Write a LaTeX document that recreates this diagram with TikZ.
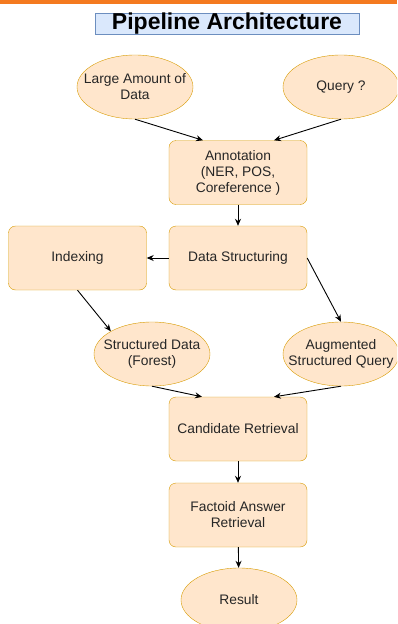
\documentclass[tikz,border=0pt]{standalone}
\usepackage{fontspec}
\setmainfont{Liberation Sans}
\usetikzlibrary{shapes.geometric,arrows.meta}
\definecolor{boxfill}{HTML}{FFE6CC}
\definecolor{boxline}{HTML}{D79B00}
\definecolor{titlefill}{HTML}{DAE8FC}
\definecolor{titleline}{HTML}{6C8EBF}
\definecolor{topbar}{HTML}{F47A20}

\begin{document}
\begin{tikzpicture} [x=1pt,y=-1pt,
    txt/.style={font=\fontsize{13.8}{16}\selectfont,text=black!85,align=center},
    stage/.style={rectangle,rounded corners=7pt,draw=boxline,fill=boxfill,minimum width=138pt,minimum height=64pt,inner sep=1pt,txt},
    blob/.style={ellipse,draw=boxline,fill=boxfill,minimum width=116pt,minimum height=64pt,inner sep=0pt,label={[txt]center:#1}},
    flow/.style={-{Stealth[length=7pt,width=6pt]},line width=0.9pt}]
       \useasboundingbox (0,0) rectangle (397,624);
       \clip (0,0) rectangle (397,624);
       \fill[topbar] (0,0) rectangle (397,4);
       \node [draw=titleline,fill=titlefill,minimum width=264pt,minimum height=21pt,inner sep=0pt,font=\fontsize{23}{23}\selectfont\bfseries] (title) at (227,23.5) {Pipeline Architecture};

       \node [blob={Large Amount of\\Data}] (data) at (135,87) {};
       \node [blob={Query ?}] (query) at (341,87) {};
       \node [stage] (anno) at (238,172.5) {Annotation\\(NER, POS,\\Coreference )};
       \node [stage] (struct) at (238,258) {Data Structuring};
       \node [stage] (index) at (77.5,258) {Indexing};
       \node [blob={Structured Data\\(Forest)}] (forest) at (152,354) {};
       \node [blob={Augmented\\Structured Query}] (augq) at (341,354) {};
       \node [stage] (cand) at (238,429) {Candidate Retrieval};
       \node [stage] (factoid) at (238,515) {Factoid Answer\\Retrieval};
       \node [blob={Result}] (result) at (239,600) {};

       \draw [flow] (data.south) -- ([xshift=-35pt]anno.north);
       \draw [flow] (query.south) -- ([xshift=36pt]anno.north);
       \draw [flow] (anno) -- (struct);
       \draw [flow] (struct) -- (index);
       \draw [flow] (index.south) -- (forest.north west);
       \draw [flow] (struct.east) -- (augq.north);
       \draw [flow] (forest.south) -- ([xshift=-36pt]cand.north);
       \draw [flow] (augq.south) -- ([xshift=36pt]cand.north);
       \draw [flow] (cand) -- (factoid);
       \draw [flow] (factoid) -- (result);
    \end{tikzpicture}
\end{document}
